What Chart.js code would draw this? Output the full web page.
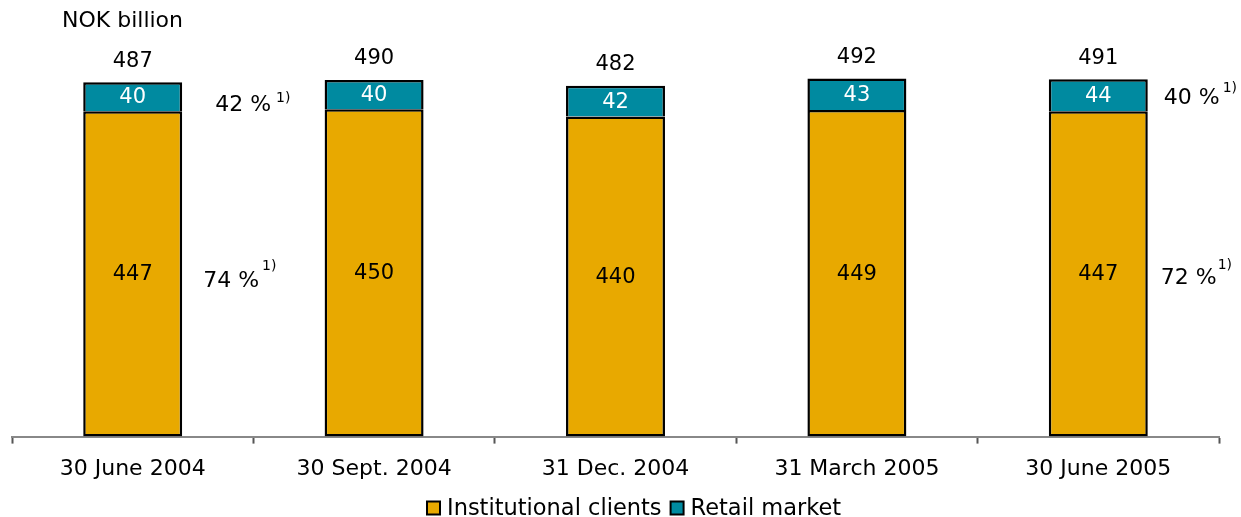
<!DOCTYPE html>
<html>
<head>
<meta charset="utf-8">
<script src="https://cdn.jsdelivr.net/npm/chart.js@4/dist/chart.umd.min.js"></script>
<style>
  html, body { margin: 0; padding: 0; background: #fff; }
  #wrap { width: 1241px; height: 517px; }
</style>
</head>
<body>
<div id="wrap"><canvas id="aumChart" width="1241" height="517"></canvas></div>
<script>
// Data
const categories = ["30 June 2004", "30 Sept. 2004", "31 Dec. 2004", "31 March 2005", "30 June 2005"];
const institutional = [447, 450, 440, 449, 447];
const retail = [40, 40, 42, 43, 44];
const totals = [487, 490, 482, 492, 491];
const unitLabel = "NOK billion";

// share notes next to first and last bar: [bar index, dataset index, text]
const shareNotes = [
  [0, 1, "42 %"],
  [0, 0, "74 %"],
  [4, 1, "40 %"],
  [4, 0, "72 %"],
];
// pixel nudges: dx from bar edge, dy from segment middle, gap and lift of the "1)"
const noteOffsets = [[33, 9, 5, -7], [21, 7, 3, -15], [16, 3, 3, -10], [13, 4, 1, -13]];

const FONT = "'DejaVu Sans', Verdana, sans-serif";

// Draw segment values, totals, share notes, unit label and legend
const labelPlugin = {
  id: "labelPlugin",
  afterDatasetsDraw(chart) {
    const ctx = chart.ctx;
    ctx.save();
    ctx.textBaseline = "middle";
    ctx.textAlign = "center";
    ctx.font = "21px " + FONT;

    chart.data.datasets.forEach((ds, di) => {
      const meta = chart.getDatasetMeta(di);
      meta.data.forEach((bar, i) => {
        const mid = (bar.y + bar.base) / 2;
        ctx.fillStyle = di === 0 ? "#000" : "#fff";
        ctx.fillText(String(ds.data[i]), bar.x, mid + 1);
      });
    });

    // totals above the stacks
    const top = chart.getDatasetMeta(1);
    ctx.fillStyle = "#000";
    top.data.forEach((bar, i) => {
      ctx.fillText(String(totals[i]), bar.x, bar.y - 21);
    });

    // share notes with superscript footnote
    shareNotes.forEach((n, k) => {
      const bar = chart.getDatasetMeta(n[1]).data[n[0]];
      const o = noteOffsets[k];
      const x = bar.x + bar.width / 2 + o[0];
      const y = (bar.y + bar.base) / 2 + o[1];
      ctx.textAlign = "left";
      ctx.font = "22px " + FONT;
      ctx.fillText(n[2], x, y);
      const w = ctx.measureText(n[2]).width;
      ctx.font = "14px " + FONT;
      ctx.fillText("1)", x + w + o[2], y + o[3]);
    });

    ctx.font = "22px " + FONT;
    ctx.textAlign = "left";
    ctx.fillText(unitLabel, 62, 21);

    // legend, drawn by hand to get the tight spacing of the original
    let lx = 427;
    const ly = 508;
    ctx.font = "22.5px " + FONT;
    chart.data.datasets.forEach((ds) => {
      ctx.fillStyle = ds.backgroundColor;
      ctx.fillRect(lx, ly - 6.5, 13, 13);
      ctx.lineWidth = 2;
      ctx.strokeStyle = "#000";
      ctx.strokeRect(lx, ly - 6.5, 13, 13);
      ctx.fillStyle = "#000";
      ctx.fillText(ds.label, lx + 20, ly + 1);
      lx += 20 + ctx.measureText(ds.label).width + 9;
    });
    ctx.restore();
  },
};

const ctx = document.getElementById("aumChart").getContext("2d");
new Chart(ctx, {
  type: "bar",
  data: {
    labels: categories,
    datasets: [
      {
        label: "Institutional clients",
        data: institutional,
        backgroundColor: "#E8A900",
        borderColor: "#000",
        borderWidth: 2.5,
        borderSkipped: false,
        categoryPercentage: 1,
        barPercentage: 0.41,
      },
      {
        label: "Retail market",
        data: retail,
        backgroundColor: "#008AA0",
        borderColor: "#000",
        borderWidth: 2.5,
        borderSkipped: "bottom",
        categoryPercentage: 1,
        barPercentage: 0.41,
      },
    ],
  },
  options: {
    responsive: false,
    animation: false,
    layout: { padding: { left: 12, right: 22, top: 0, bottom: 23 } },
    plugins: {
      legend: { display: false },
      tooltip: { enabled: false },
    },
    scales: {
      x: {
        stacked: true,
        grid: { display: true, drawOnChartArea: false, drawTicks: true, tickLength: 7, tickWidth: 2, color: "#555", offset: true },
        border: { display: true, color: "#888", width: 2 },
        ticks: { color: "#000", font: { family: FONT, size: 22 }, padding: 12 },
      },
      y: {
        stacked: true,
        display: false,
        min: 0,
        max: 600,
      },
    },
  },
  plugins: [labelPlugin],
});
</script>
</body>
</html>
